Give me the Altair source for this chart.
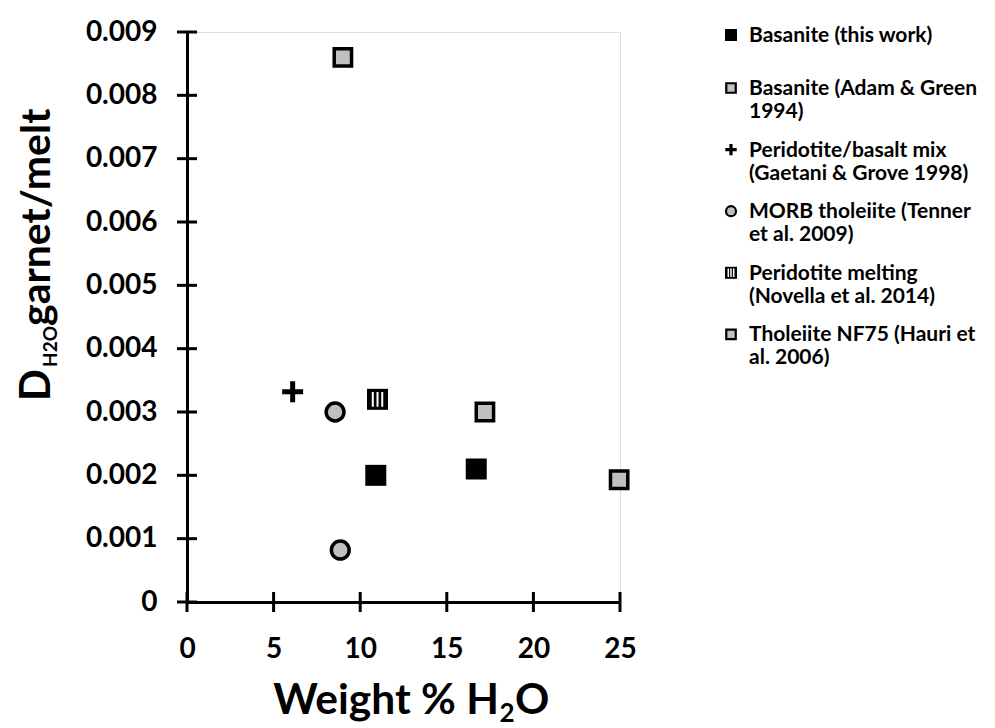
import altair as alt
import pandas as pd

# Water partitioning between garnet and melt, by study
series_names = [
    "Basanite (this work)",
    "Basanite (Adam & Green 1994)",
    "Peridotite/basalt mix (Gaetani & Grove 1998)",
    "MORB tholeiite (Tenner et al. 2009)",
    "Peridotite melting (Novella et al. 2014)",
    "Tholeiite NF75 (Hauri et al. 2006)",
]
legend_labels = [
    "Basanite (this work)",
    "Basanite (Adam & Green\n1994)",
    "Peridotite/basalt mix\n(Gaetani & Grove 1998)",
    "MORB tholeiite (Tenner\net al. 2009)",
    "Peridotite melting\n(Novella et al. 2014)",
    "Tholeiite NF75 (Hauri et\nal. 2006)",
]

this_work_h2o = [10.9, 16.7]
this_work_d = [0.0020, 0.0021]
adam_green_h2o = [9.0]
adam_green_d = [0.0086]
gaetani_grove_h2o = [6.1]
gaetani_grove_d = [0.00332]
tenner_h2o = [8.55, 8.85]
tenner_d = [0.0030, 0.00082]
novella_h2o = [11.0]
novella_d = [0.0032]
hauri_h2o = [17.2, 24.95]
hauri_d = [0.0030, 0.00193]

x_ticks = [0, 5, 10, 15, 20, 25]
y_ticks = [0, 0.001, 0.002, 0.003, 0.004, 0.005, 0.006, 0.007, 0.008, 0.009]

all_h2o = [this_work_h2o, adam_green_h2o, gaetani_grove_h2o, tenner_h2o, novella_h2o, hauri_h2o]
all_d = [this_work_d, adam_green_d, gaetani_grove_d, tenner_d, novella_d, hauri_d]

rows = []
for name, xs, ys in zip(series_names, all_h2o, all_d):
    for xv, yv in zip(xs, ys):
        rows.append({"series": name, "h2o": xv, "d": yv})
points = pd.DataFrame(rows)
legend_df = pd.DataFrame({"series": series_names, "label": legend_labels,
                          "order": list(range(len(series_names)))})

W, H = 433, 570
FONT = "Lato"
GRAY = "#c0c0c0"

x_scale = alt.Scale(domain=[0, 25], nice=False, zero=False)
y_scale = alt.Scale(domain=[0, 0.009], nice=False, zero=False)

PLUS = "M-1,0H1M0,-1V1"
STRIPES = "M-0.45,-0.7V0.7M0,-0.7V0.7M0.45,-0.7V0.7"

# (shape, fill, stroke, strokeWidth, plot size, legend size, legend strokeWidth)
styles = {
    series_names[0]: [("square", "black", "black", 0.01, 441, 144, 0.01)],
    series_names[1]: [("square", GRAY, "black", 3.5, 300, 90, 2.2)],
    series_names[2]: [(PLUS, "black", "black", 5, 440, 130, 3.2)],
    series_names[3]: [("circle", GRAY, "black", 3.5, 320, 100, 2.2)],
    series_names[4]: [("square", "black", "black", 0.01, 441, 144, 0.01),
                      (STRIPES, "white", "white", 2, 441, 144, 1.5)],
    series_names[5]: [("square", GRAY, "black", 3.5, 300, 90, 2.2)],
}

axis_common = dict(title=None, ticks=False, tickSize=0, domainWidth=3,
                   domainColor="black", labelFontSize=28, labelFont=FONT,
                   labelFontWeight="bold", labelColor="black", grid=False,
                   labelFlush=False, labelOverlap=False)
x_enc = alt.X("h2o:Q", scale=x_scale,
              axis=alt.Axis(values=x_ticks, labelPadding=33, **axis_common))
y_enc = alt.Y("d:Q", scale=y_scale,
              axis=alt.Axis(values=y_ticks, format=".3~f", labelPadding=30, **axis_common))

layers = []

# tick marks crossing both axes
layers.append(
    alt.Chart(pd.DataFrame({"d": y_ticks})).mark_rule(color="black", strokeWidth=3, clip=False)
    .encode(y=alt.Y("d:Q", scale=y_scale), x=alt.value(-10), x2=alt.value(10))
)
layers.append(
    alt.Chart(pd.DataFrame({"h2o": x_ticks})).mark_rule(color="black", strokeWidth=3, clip=False)
    .encode(x=alt.X("h2o:Q", scale=x_scale), y=alt.value(H - 10), y2=alt.value(H + 10))
)

# invisible layer carrying the axes
layers.append(
    alt.Chart(points).mark_point(opacity=0).encode(x=x_enc, y=y_enc)
)

legend_y = "(datum.order == 0 ? 35 : 88 + (datum.order - 1) * 61.6) - 32"

for name in series_names:
    for shape, fill, stroke, sw, size, lsize, lsw in styles[name]:
        layers.append(
            alt.Chart(points).transform_filter(alt.datum.series == name)
            .mark_point(shape=shape, filled=True, fill=fill, stroke=stroke,
                        strokeWidth=sw, size=size, opacity=1, clip=False,
                        strokeCap="butt")
            .encode(x=alt.X("h2o:Q", scale=x_scale), y=alt.Y("d:Q", scale=y_scale))
        )
        layers.append(
            alt.Chart(legend_df).transform_filter(alt.datum.series == name)
            .transform_calculate(ly=legend_y)
            .mark_point(shape=shape, filled=True, fill=fill, stroke=stroke,
                        strokeWidth=lsw, size=lsize, opacity=1,
                        clip=False, strokeCap="butt")
            .encode(x=alt.value(731 - 187), y=alt.Y("ly:Q", scale=None))
        )

# legend labels
layers.append(
    alt.Chart(legend_df)
    .transform_calculate(ly=legend_y + " + 7")
    .mark_text(align="left", baseline="alphabetic", font=FONT, fontWeight="bold",
               fontSize=21, lineBreak="\n", lineHeight=23, color="black", clip=False)
    .encode(x=alt.value(749 - 187), y=alt.Y("ly:Q", scale=None), text="label:N")
)


def title_piece(text, x, y, size, align, angle=0):
    return (
        alt.Chart(pd.DataFrame({"t": [text]}))
        .mark_text(align=align, baseline="alphabetic", font=FONT, fontWeight="bold",
                   fontSize=size, angle=angle, color="black", clip=False)
        .encode(x=alt.value(x), y=alt.value(y), text="t:N")
    )


# x-axis title with subscript
layers.append(title_piece("Weight % H", 499 - 187, 714 - 32, 42.5, "right"))
layers.append(title_piece("2", 507 - 187, 722 - 32, 26, "center"))
layers.append(title_piece("O", 515 - 187, 714 - 32, 42.5, "left"))

# y-axis title, rotated, with subscript
layers.append(title_piece("D", 50 - 187, 401 - 32, 42, "left", angle=270))
layers.append(title_piece("H2O", 57 - 187, 367 - 32, 19, "left", angle=270))
layers.append(title_piece("garnet/melt", 50 - 187, 326 - 32, 41, "left", angle=270))

chart = (
    alt.layer(*layers)
    .properties(width=W, height=H,
                autosize=alt.AutoSizeParams(type="none"),
                padding={"left": 187, "top": 32, "right": 995 - 187 - W,
                         "bottom": 728 - 32 - H})
    .configure_view(stroke=None)
    .configure(background="white")
)

chart.save("out.html", embed_options={"renderer": "svg", "actions": False})
